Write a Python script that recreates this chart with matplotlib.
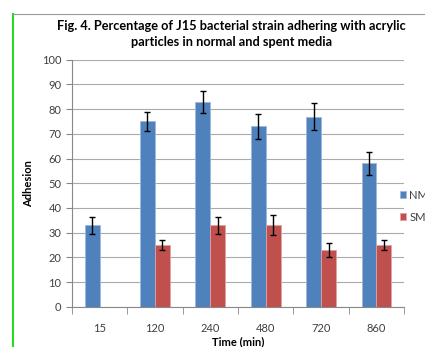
import numpy as np
import matplotlib.pyplot as plt
from matplotlib.lines import Line2D

times = ["15", "120", "240", "480", "720", "860"]
nm = [33, 75, 83, 73, 77, 58]
nm_err = [3.5, 4, 4.5, 5, 5.5, 4.5]
sm = [0, 25, 33, 33, 23, 25]
sm_err = [0, 2, 3.5, 4, 3, 2]

plt.rcParams['font.family'] = ['Lato', 'DejaVu Sans']

fig = plt.figure(figsize=(4.25, 3.47), dpi=100)
ax = fig.add_axes([0.169, 0.116, 0.782, 0.712])

x = np.arange(len(times))
w = 0.27
ax.bar(x - w / 2, nm, w, color="#4F81BD", edgecolor="#9DB9DC", linewidth=0.6, label="NM", zorder=3)
sm_x = [xi + w / 2 for xi, v in zip(x, sm) if v > 0]
sm_v = [v for v in sm if v > 0]
sm_e = [e for e, v in zip(sm_err, sm) if v > 0]
ax.bar(sm_x, sm_v, w, color="#C0504D", edgecolor="#E0A3A1", linewidth=0.6, label="SM", zorder=3)
ax.errorbar(x - w / 2, nm, yerr=nm_err, fmt="none", ecolor="black", elinewidth=1, capsize=2.5, zorder=4)
ax.errorbar(sm_x, sm_v, yerr=sm_e, fmt="none", ecolor="black", elinewidth=1, capsize=2.5, zorder=4)

ax.set_xlim(-0.5, len(times) - 0.5)
ax.set_ylim(0, 100)
ax.set_yticks(range(0, 101, 10))
ax.set_xticks(x)
ax.set_xticklabels(times)
ax.set_xticks(np.arange(-0.5, len(times)), minor=True)
ax.tick_params(axis="x", which="major", length=0, pad=12, labelsize=8, colors="#404040")
ax.tick_params(axis="x", which="minor", length=5, color="#888888")
ax.tick_params(axis="y", length=4, color="#888888", labelsize=8, labelcolor="#404040")
ax.grid(axis="y", color="#AAAAAA", linewidth=0.8, zorder=0)
for s in ["top", "right"]:
    ax.spines[s].set_visible(False)
ax.spines["left"].set_color("#888888")
ax.spines["bottom"].set_color("#888888")

ax.set_xlabel("Time (min)", fontsize=8, fontweight="bold", labelpad=1)
ax.set_ylabel("Adhesion", fontsize=8, fontweight="bold", labelpad=6)

fig.text(0.545, 0.926, "Fig. 4. Percentage of J15 bacterial strain adhering with acrylic",
         ha="center", va="center", fontsize=9.2, fontweight="bold")
fig.text(0.545, 0.878, "particles in normal and spent media",
         ha="center", va="center", fontsize=9.2, fontweight="bold")

ax.legend(loc="center left", bbox_to_anchor=(0.94, 0.406), bbox_transform=fig.transFigure,
          frameon=False, fontsize=8, handlelength=0.6, handleheight=0.6, borderpad=0,
          borderaxespad=0, handletextpad=0.3, labelspacing=1.0, labelcolor="#404040")

fig.add_artist(Line2D([0.031, 0.031], [0, 0.96], color="#22DD22", linewidth=1.5))
fig.add_artist(Line2D([0.031, 1.0], [0.96, 0.96], color="#999999", linewidth=0.8))

fig.savefig("out.png", dpi=100)
plt.close(fig)
